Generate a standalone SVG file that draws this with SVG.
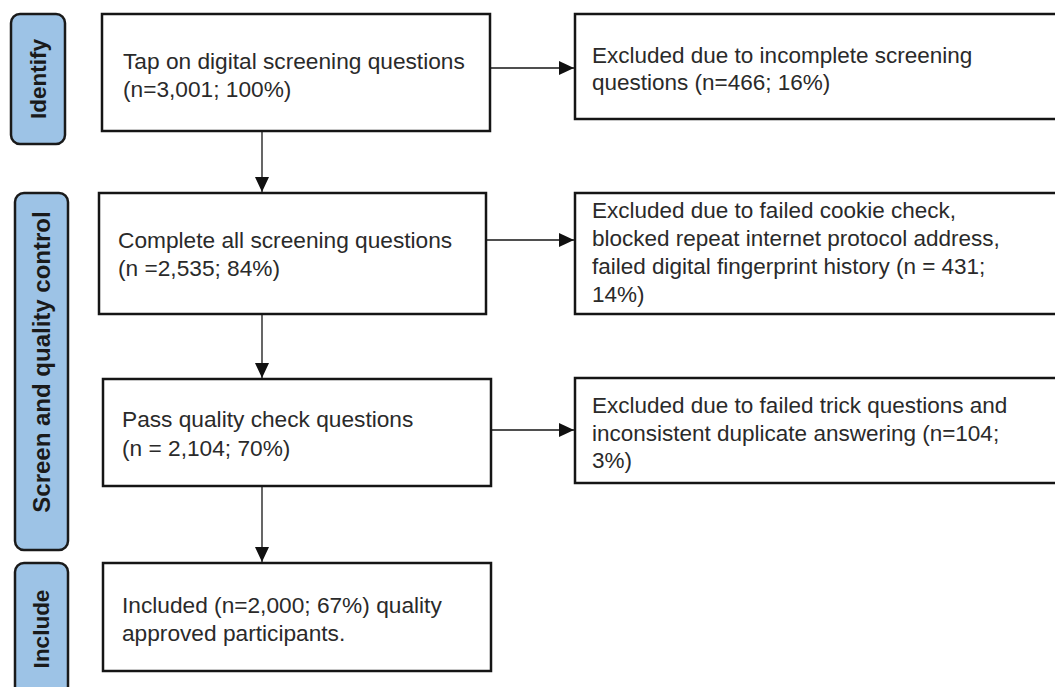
<svg xmlns="http://www.w3.org/2000/svg" width="1055" height="687" viewBox="0 0 1055 687">
  <defs>
    <style>
      .box { fill: #ffffff; stroke: #151515; stroke-width: 2.5; }
      .lab { fill: #9dc3e6; stroke: #1a1a1a; stroke-width: 2.5; }
      .t { font-family: "Liberation Sans", Arial, sans-serif; font-size: 22.7px; fill: #2a2a2a; }
      .tx { font-family: "Liberation Sans", Arial, sans-serif; font-size: 22.5px; fill: #2a2a2a; }
      .lt { font-family: "Liberation Sans", Arial, sans-serif; font-size: 22.5px; font-weight: bold; fill: #1a1a1a; text-anchor: middle; }
      .conn { stroke: #151515; stroke-width: 1.3; fill: none; }
    </style>
    <marker id="ah" markerUnits="userSpaceOnUse" markerWidth="15" markerHeight="14" refX="15" refY="7" orient="auto">
      <path d="M0,0 L15,7 L0,14 Z" fill="#111111"/>
    </marker>
  </defs>
  <rect x="0" y="0" width="1055" height="687" fill="#ffffff"/>

  <g id="label-identify">
    <rect class="lab" x="11" y="14" width="54" height="130" rx="9" ry="9"/>
    <text class="lt" transform="translate(46,79) rotate(-90)">Identify</text>
  </g>
  <g id="label-screen">
    <rect class="lab" x="15" y="193" width="53" height="357" rx="9" ry="9"/>
    <text class="lt" style="font-size:24px" transform="translate(50,362) rotate(-90)">Screen and quality control</text>
  </g>
  <g id="label-include">
    <rect class="lab" x="15" y="563" width="53" height="140" rx="9" ry="9"/>
    <text class="lt" transform="translate(49,629) rotate(-90)">Include</text>
  </g>

  <g id="node-tap">
    <rect class="box" x="102" y="14" width="388" height="117"/>
    <text class="t" x="123" y="69">Tap on digital screening questions</text>
    <text class="t" x="123" y="97">(n=3,001; 100%)</text>
  </g>
  <g id="node-complete">
    <rect class="box" x="99" y="193" width="387" height="121"/>
    <text class="t" x="118" y="248">Complete all screening questions</text>
    <text class="t" x="118" y="276">(n =2,535; 84%)</text>
  </g>
  <g id="node-pass">
    <rect class="box" x="103" y="379" width="388" height="107"/>
    <text class="t" x="122" y="427">Pass quality check questions</text>
    <text class="t" x="122" y="456">(n = 2,104; 70%)</text>
  </g>
  <g id="node-included">
    <rect class="box" x="103" y="563" width="388" height="108"/>
    <text class="t" x="122" y="613">Included (n=2,000; 67%) quality</text>
    <text class="t" x="122" y="641">approved participants.</text>
  </g>

  <g id="node-excl1">
    <rect class="box" x="575" y="14" width="500" height="105"/>
    <text class="tx" x="592" y="63">Excluded due to incomplete screening</text>
    <text class="tx" x="592" y="90">questions (n=466; 16%)</text>
  </g>
  <g id="node-excl2">
    <rect class="box" x="575" y="193" width="500" height="121"/>
    <text class="tx" x="592" y="218">Excluded due to failed cookie check,</text>
    <text class="tx" x="592" y="246">blocked repeat internet protocol address,</text>
    <text class="tx" x="592" y="274">failed digital fingerprint history (n = 431;</text>
    <text class="tx" x="592" y="302">14%)</text>
  </g>
  <g id="node-excl3">
    <rect class="box" x="575" y="378" width="500" height="105"/>
    <text class="tx" x="592" y="413">Excluded due to failed trick questions and</text>
    <text class="tx" x="592" y="441">inconsistent duplicate answering (n=104;</text>
    <text class="tx" x="592" y="468">3%)</text>
  </g>

  <g id="connectors">
    <line class="conn" x1="262" y1="132" x2="262" y2="192" marker-end="url(#ah)"/>
    <line class="conn" x1="262" y1="315" x2="262" y2="378" marker-end="url(#ah)"/>
    <line class="conn" x1="262" y1="487" x2="262" y2="562" marker-end="url(#ah)"/>
    <line class="conn" x1="491" y1="68" x2="574" y2="68" marker-end="url(#ah)"/>
    <line class="conn" x1="487" y1="240" x2="574" y2="240" marker-end="url(#ah)"/>
    <line class="conn" x1="492" y1="430" x2="574" y2="430" marker-end="url(#ah)"/>
  </g>
</svg>
